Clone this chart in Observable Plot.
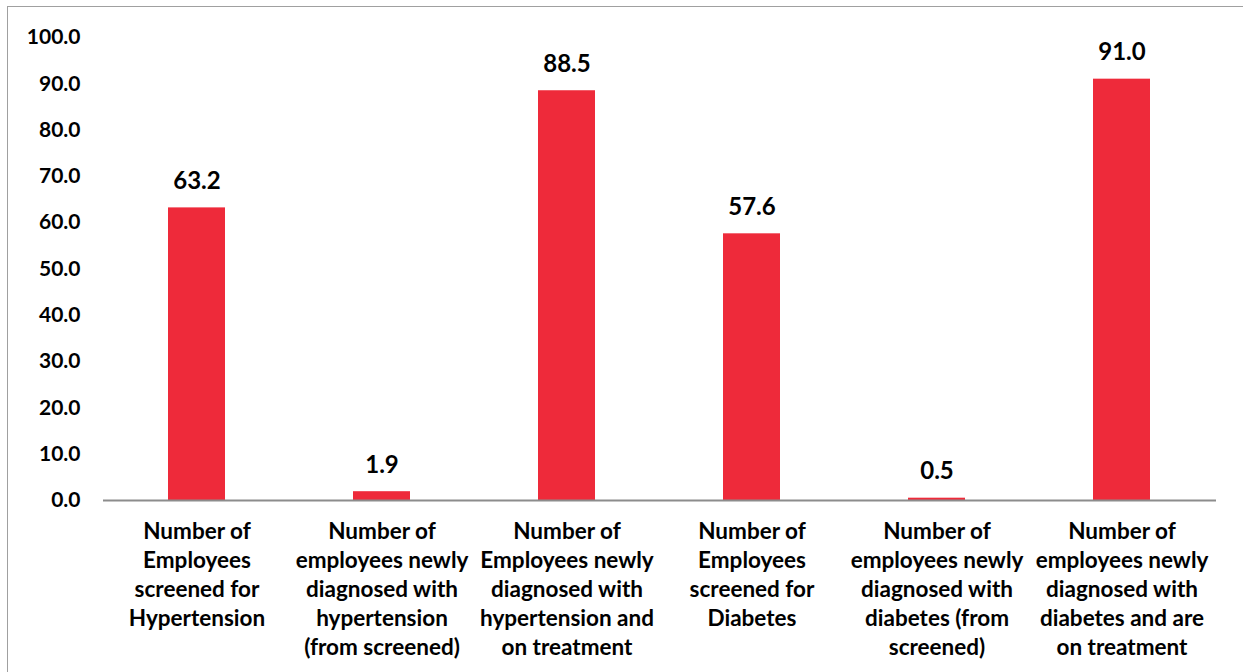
<!DOCTYPE html>
<html>
<head>
<meta charset="utf-8">
<script src="https://cdn.jsdelivr.net/npm/d3@7"></script>
<script src="https://cdn.jsdelivr.net/npm/@observablehq/plot@0.6"></script>
<style>
  html, body { margin: 0; padding: 0; background: #fff; overflow: hidden; }
  #wrap { position: relative; width: 1243px; height: 672px; }
  #frame { position: absolute; left: 7px; top: 6px; width: 1300px; height: 700px;
           border-left: 1.5px solid #a0a0a0; border-top: 1.5px solid #a0a0a0; pointer-events: none; }
  #chart { position: absolute; left: 0; top: 0; }
</style>
</head>
<body>
<div id="wrap"><div id="chart"></div><div id="frame"></div></div>
<script>
const categories = [
  "Number of\nEmployees\nscreened for\nHypertension",
  "Number of\nemployees newly\ndiagnosed with\nhypertension\n(from screened)",
  "Number of\nEmployees newly\ndiagnosed with\nhypertension and\non treatment",
  "Number of\nEmployees\nscreened for\nDiabetes",
  "Number of\nemployees newly\ndiagnosed with\ndiabetes (from\nscreened)",
  "Number of\nemployees newly\ndiagnosed with\ndiabetes and are\non treatment"
];
const values = [63.2, 1.9, 88.5, 57.6, 0.5, 91.0];
const yTicks = [0, 10, 20, 30, 40, 50, 60, 70, 80, 90, 100];

const data = categories.map((c, i) => ({category: c, value: values[i]}));
const font = "Lato, 'Open Sans', sans-serif";

const chart = Plot.plot({
  width: 1243,
  height: 672,
  marginLeft: 103,
  marginRight: 27,
  marginTop: 37,
  marginBottom: 172,
  style: {fontFamily: font, fontWeight: "bold", color: "#000", background: "transparent"},
  x: {domain: categories, paddingInner: 0.69, paddingOuter: 0.345, label: null},
  y: {domain: [0, 100], label: null},
  marks: [
    Plot.barY(data, {x: "category", y: "value", fill: "#EE2A3A"}),
    Plot.ruleY([0], {stroke: "#8c8c8c", strokeWidth: 2}),
    Plot.text(data, {x: "category", y: "value", text: d => d.value.toFixed(1),
      lineAnchor: "bottom", dy: -19, fontSize: 24, fontWeight: "bold", fill: "#000"}),
    Plot.axisY({ticks: yTicks, tickFormat: d => d.toFixed(1), tickSize: 0, tickPadding: 23,
      fontSize: 21, fontWeight: "bold", label: null}),
    Plot.axisX({tickSize: 0, tickPadding: 18, fontSize: 22.5, fontWeight: "bold",
      lineHeight: 1.29, label: null, textOverflow: null, lineWidth: Infinity})
  ]
});
document.getElementById("chart").appendChild(chart);
</script>
</body>
</html>
